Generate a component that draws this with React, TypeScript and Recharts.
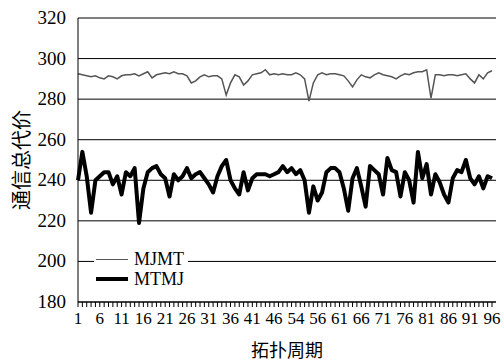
import React from 'react';
import { LineChart, Line, XAxis, YAxis, CartesianGrid } from 'recharts';

// 拓扑周期 1..96
const periods = Array.from({ length: 96 }, (_, i) => i + 1);

// tick labels as printed in the figure (note "54" in place of 51)
const xTickLabels = ['1', '6', '11', '16', '21', '26', '31', '36', '41', '46', '54', '56', '61', '66', '71', '76', '81', '86', '91', '96'];
const yTicks = [180, 200, 220, 240, 260, 280, 300, 320];

const mjmt = [
  292.5, 292, 291.5, 291, 291.5, 290.5, 290, 291.5, 291, 290,
  291.5, 292, 292, 292.5, 291.5, 292.5, 293.5, 290.5, 292, 292.5,
  293, 292.5, 293.5, 292.5, 292.5, 291.5, 288, 289, 291, 292,
  291, 291.5, 291.5, 290, 282, 288, 292, 291, 287, 289,
  292, 292.5, 293, 294.5, 292, 292.5, 292, 292.5, 292, 292,
  293, 292, 290, 279, 288, 292, 293, 292, 292.5, 292.5,
  292, 291.5, 289, 286, 289.5, 292, 291, 290.5, 292, 293,
  292, 291.5, 291, 290, 291.5, 292.5, 292, 293, 293.5, 293.5,
  294.5, 280.5, 292, 292, 291.5, 292, 292, 291.5, 292, 292.5,
  290, 288, 292, 290, 293, 294,
];

const mtmj = [
  240, 254, 242, 224, 240, 242, 244, 244, 238, 242,
  233, 244, 242, 246, 219, 236, 244, 246, 247, 243,
  241, 232, 243, 240, 242, 246, 241, 243, 244, 241,
  238, 234, 242, 247, 250, 240, 236, 233, 244, 235,
  241, 243, 243, 243, 242, 243, 244, 247, 244, 246,
  243, 245, 240, 224, 237, 230, 234, 244, 246, 246,
  244, 236, 225, 241, 246, 237, 227, 247, 245, 243,
  233, 251, 245, 244, 232, 244, 240, 229, 254, 241,
  248, 233, 243, 239, 233, 229, 241, 245, 244, 250,
  241, 238, 242, 236, 242, 241,
];

const data = periods.map((p, i) => ({ period: p, MJMT: mjmt[i], MTMJ: mtmj[i] }));

const serif = 'Liberation Serif, Tinos, Times New Roman, serif';
const cjk = 'Noto Sans CJK SC, sans-serif';

const XTick = (props: any) => {
  const { x, y, payload, index } = props;
  const idx = payload?.index ?? index;
  if (idx % 5 !== 0) return <g />;
  return (
    <text x={x} y={y} dy={15} textAnchor="middle" fontFamily={serif} fontSize={17} fill="#000">
      {xTickLabels[idx / 5]}
    </text>
  );
};

const YTick = (props: any) => {
  const { x, y, payload } = props;
  return (
    <text x={x} y={y} dy={6} textAnchor="end" fontFamily={serif} fontSize={19} fill="#000">
      {payload.value}
    </text>
  );
};

const LegendBox = () => (
  <div style={{ position: 'absolute', left: 94, top: 249, background: '#fff', fontFamily: serif, fontSize: 18, color: '#000', padding: '0 4px 0 2px', lineHeight: '20px' }}>
    <div style={{ display: 'flex', alignItems: 'center' }}>
      <span style={{ display: 'inline-block', width: 32, height: 0, borderTop: '1.5px solid #555', marginRight: 6 }} />
      MJMT
    </div>
    <div style={{ display: 'flex', alignItems: 'center' }}>
      <span style={{ display: 'inline-block', width: 32, height: 0, borderTop: '4px solid #000', marginRight: 6 }} />
      MTMJ
    </div>
  </div>
);

export default function App() {
  return (
    <div style={{ position: 'absolute', left: 0, top: 0, width: 504, height: 361, background: '#fff' }}>
      <LineChart width={504} height={361} data={data} margin={{ top: 18, right: 8, bottom: 0, left: 0 }}>
        <CartesianGrid vertical={false} stroke="#000" strokeWidth={1} />
        <XAxis
          dataKey="period"
          interval={0}
          tick={<XTick />}
          tickSize={5}
          tickLine={{ stroke: '#000' }}
          axisLine={{ stroke: '#000' }}
          height={59}
          padding={{ left: 0, right: 4 }}
          label={({ viewBox }: any) => (
            <text x={viewBox.x + viewBox.width / 2} y={viewBox.y + 47} textAnchor="middle" dominantBaseline="central" fontFamily={cjk} fontSize={18} fill="#000">
              拓扑周期
            </text>
          )}
        />
        <YAxis
          domain={[180, 320]}
          ticks={yTicks}
          interval={0}
          width={78}
          tickLine={false}
          axisLine={{ stroke: '#000' }}
          tickMargin={6}
          tick={<YTick />}
          label={({ viewBox }: any) => {
            const cx = 20;
            const cy = viewBox.y + viewBox.height / 2;
            return (
              <text x={cx} y={cy} transform={`rotate(-90, ${cx}, ${cy})`} textAnchor="middle" dominantBaseline="central" fontFamily={cjk} fontSize={20} fill="#000">
                通信总代价
              </text>
            );
          }}
        />
        <Line type="linear" dataKey="MJMT" stroke="#555" strokeWidth={1.5} dot={false} isAnimationActive={false} />
        <Line type="linear" dataKey="MTMJ" stroke="#000" strokeWidth={4} strokeLinejoin="round" dot={false} isAnimationActive={false} />
      </LineChart>
      <LegendBox />
    </div>
  );
}
